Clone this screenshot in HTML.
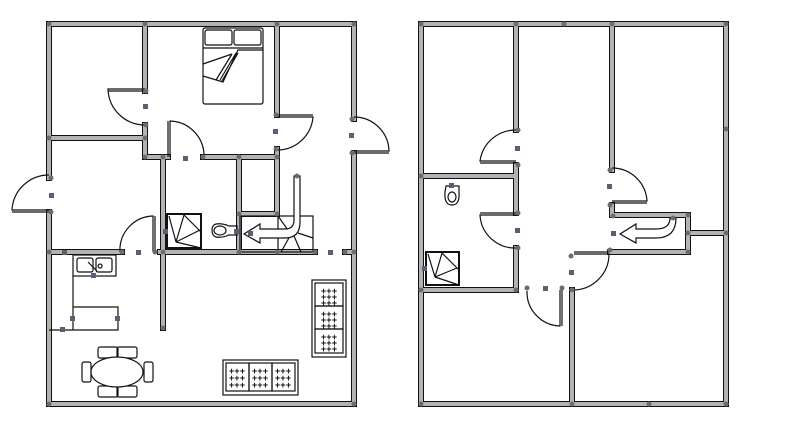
<!DOCTYPE html>
<html><head><meta charset="utf-8"><style>
html,body{margin:0;padding:0;background:#fff;}
svg{display:block;}
.wo{fill:none;stroke:#111;stroke-width:6;stroke-linecap:square;}
.wi{fill:none;stroke:#b3b3b3;stroke-width:4;stroke-linecap:square;}
.l{fill:none;stroke:#111;stroke-width:1.2;}
.lw{fill:#fff;stroke:#111;stroke-width:1.2;}
.d{fill:#6b6b78;}
.m{fill:#5e5e72;}
</style></head><body>
<svg width="785" height="434" viewBox="0 0 785 434" xmlns="http://www.w3.org/2000/svg">
<defs>
<path id="walls" d="
M49 24 H354 M49 24 V178 M49 212 V404 H354 M354 24 V119 M354 153 V404
M145 24 V91 M145 125 V157 M49 138 H145 M145 157 H168 M203 157 H277
M277 24 V115 M277 149 V214 M163 157 V328 M239 157 V252 M239 214 H277
M49 252 H122 M160 252 H315 M345 252 H354
M421 24 H726 M421 24 V404 H726 M726 24 V404
M516 24 V130 M516 165 V213 M516 248 V290 M421 176 H516 M421 290 H516
M612 24 V170 M612 205 V215 H688 V252 H610 M688 233 H726
M572 290 V404"/>
</defs>
<use href="#walls" class="wo"/>
<use href="#walls" class="wi"/>

<path class="l" d="M145 91 H108 M145 89 H108 A37 37 0 0 0 145 125"/>
<path class="l" d="M168 157 V121 M170 157 V121 A35 35 0 0 1 204 157"/>
<path class="l" d="M277 115 H313 M277 117 H313 A36 36 0 0 1 277 150"/>
<path class="l" d="M354 153 H389 M354 151 H389 A35 35 0 0 0 354 117"/>
<path class="l" d="M49 212 H12 M49 210 H12 A37 37 0 0 1 49 175"/>
<path class="l" d="M155 252 V216 M153 252 V216 A34 34 0 0 0 120 252"/>
<path class="l" d="M516 163 H480 M516 161 H480 A36 36 0 0 1 516 130"/>
<path class="l" d="M516 213 H480 M516 215 H480 A35 35 0 0 0 516 248"/>
<path class="l" d="M612 203 H647 M612 201 H647 A35 35 0 0 0 612 168"/>
<path class="l" d="M574 252 H609 M574 254 H609 A36 36 0 0 1 573 290"/>
<path class="l" d="M562 290 V326 M560 290 V326 A34 34 0 0 1 527 291"/>

<rect class="lw" x="203" y="28" width="60" height="76" rx="2"/>
<rect class="l" x="205" y="30" width="27" height="15" rx="2"/>
<rect class="l" x="234" y="30" width="27" height="15" rx="2"/>
<path class="l" d="M203 48 H263 M263 50 H238 L223 82 L203 76 M238 53 L222 81 M236 53 L220 80 M232 54 L216 80 M203 64 L232 54"/>

<rect x="167" y="214" width="34" height="34" fill="#fff" stroke="#111" stroke-width="2"/>
<path class="l" d="M167 214 H183 L201 232 M176 242 L169 216 M176 242 L184 215 M176 242 L200 230 M176 242 L201 248"/>
<path class="l" d="M237 226 H229 Q222 223 216 224 Q212 225 212 230 Q212 236 216 237 Q222 238 229 235 H237 Z"/>
<ellipse class="l" cx="220" cy="230.5" rx="6" ry="4.5"/>
<rect class="l" x="240" y="216" width="73" height="36"/>
<path class="l" d="M278 216 L290 233 M281 252 L290 236 M301 252 L294 236 M313 238 L298 233 M278 216 V252"/>
<path class="lw" d="M294 176 V220 Q294 229 285 229 H260 V224 L244 234 L260 243 V238 H285 Q300 238 300 222 V176 Z"/>

<rect class="l" x="73" y="255" width="43" height="21"/>
<rect class="l" x="77" y="258" width="16" height="14" rx="2"/>
<rect class="l" x="96" y="258" width="16" height="14" rx="2"/>
<path class="l" d="M88 262 L97 271 M100 264 a2 2 0 1 0 0.1 0"/>
<path class="l" d="M73 276 V330 M49 330 H118 V307 H73"/>

<rect class="l" x="98" y="347" width="20" height="11" rx="2"/>
<rect class="l" x="117" y="347" width="20" height="11" rx="2"/>
<rect class="l" x="98" y="386" width="20" height="11" rx="2"/>
<rect class="l" x="117" y="386" width="20" height="11" rx="2"/>
<rect class="l" x="82" y="362" width="9" height="20" rx="2"/>
<rect class="l" x="144" y="362" width="9" height="20" rx="2"/>
<ellipse class="lw" cx="117" cy="372" rx="26" ry="15"/>

<g class="l">
<rect x="312" y="280" width="34" height="77"/>
<rect x="315" y="283" width="28" height="23"/>
<rect x="315" y="306" width="28" height="23"/>
<rect x="315" y="329" width="28" height="24"/>
<rect x="223" y="360" width="75" height="35"/>
<rect x="226" y="363" width="23" height="28"/>
<rect x="249" y="363" width="23" height="28"/>
<rect x="272" y="363" width="23" height="28"/>
</g>
<g font-family="Liberation Mono, monospace" font-size="9" font-weight="bold" fill="#111" text-anchor="middle">
<text x="329" y="294">+++</text><text x="329" y="300">+++</text><text x="329" y="306">+++</text>
<text x="329" y="317">+++</text><text x="329" y="323">+++</text><text x="329" y="329">+++</text>
<text x="329" y="340">+++</text><text x="329" y="346">+++</text><text x="329" y="352">+++</text>
<text x="237" y="374">+++</text><text x="237" y="381">+++</text><text x="237" y="388">+++</text>
<text x="260" y="374">+++</text><text x="260" y="381">+++</text><text x="260" y="388">+++</text>
<text x="283" y="374">+++</text><text x="283" y="381">+++</text><text x="283" y="388">+++</text>
</g>

<rect x="426" y="252" width="33" height="33" fill="#fff" stroke="#111" stroke-width="2"/>
<path class="l" d="M426 252 H441 L459 270 M435 277 L428 254 M435 277 L442 253 M435 277 L457 268 M435 277 L459 285"/>
<path class="l" d="M446 186 H459 V192 Q460 205 452 205 Q444 205 445 192 Z"/>
<ellipse class="l" cx="452" cy="197" rx="4" ry="5"/>
<path class="lw" d="M670 218 Q670 229 656 229 H636 V224 L620 234 L636 243 V238 H656 Q676 238 676 218 Z"/>

<g class="d">
<circle cx="49" cy="24" r="2.5"/><circle cx="145" cy="24" r="2.5"/><circle cx="277" cy="24" r="2.5"/><circle cx="354" cy="24" r="2.5"/>
<circle cx="146" cy="91" r="2.5"/><circle cx="146" cy="125" r="2.5"/><circle cx="49" cy="138" r="2.5"/><circle cx="145" cy="138" r="2.5"/>
<circle cx="145" cy="157" r="2.5"/><circle cx="163" cy="157" r="2.5"/><circle cx="203" cy="157" r="2.5"/><circle cx="239" cy="157" r="2.5"/><circle cx="277" cy="157" r="2.5"/>
<circle cx="276" cy="115" r="2.5"/><circle cx="276" cy="149" r="2.5"/><circle cx="352" cy="119" r="2.5"/><circle cx="352" cy="153" r="2.5"/>
<circle cx="51" cy="178" r="2.5"/><circle cx="51" cy="212" r="2.5"/><circle cx="239" cy="214" r="2.5"/><circle cx="277" cy="214" r="2.5"/>
<circle cx="49" cy="252" r="2.5"/><circle cx="122" cy="252" r="2.5"/><circle cx="155" cy="252" r="2.5"/><circle cx="163" cy="252" r="2.5"/><circle cx="239" cy="252" r="2.5"/><circle cx="277" cy="252" r="2.5"/><circle cx="315" cy="252" r="2.5"/><circle cx="345" cy="252" r="2.5"/><circle cx="354" cy="252" r="2.5"/>
<circle cx="163" cy="328" r="2.5"/><circle cx="49" cy="404" r="2.5"/><circle cx="354" cy="404" r="2.5"/><circle cx="297" cy="176" r="2.5"/>
<circle cx="421" cy="24" r="2.5"/><circle cx="516" cy="24" r="2.5"/><circle cx="564" cy="24" r="2.5"/><circle cx="612" cy="24" r="2.5"/><circle cx="726" cy="24" r="2.5"/>
<circle cx="518" cy="130" r="2.5"/><circle cx="518" cy="165" r="2.5"/><circle cx="421" cy="176" r="2.5"/><circle cx="518" cy="213" r="2.5"/><circle cx="518" cy="248" r="2.5"/>
<circle cx="421" cy="290" r="2.5"/><circle cx="516" cy="290" r="2.5"/><circle cx="527" cy="288" r="2.5"/><circle cx="562" cy="288" r="2.5"/><circle cx="572" cy="290" r="2.5"/><circle cx="571" cy="256" r="2.5"/>
<circle cx="610" cy="170" r="2.5"/><circle cx="610" cy="205" r="2.5"/><circle cx="613" cy="216" r="2.5"/><circle cx="688" cy="215" r="2.5"/><circle cx="688" cy="233" r="2.5"/><circle cx="688" cy="252" r="2.5"/><circle cx="610" cy="250" r="2.5"/>
<circle cx="726" cy="129" r="2.5"/><circle cx="726" cy="233" r="2.5"/><circle cx="421" cy="404" r="2.5"/><circle cx="572" cy="404" r="2.5"/><circle cx="649" cy="404" r="2.5"/><circle cx="726" cy="404" r="2.5"/><circle cx="673" cy="218" r="2.5"/>
</g>
<g class="m">
<rect x="143" y="104" width="5" height="5"/><rect x="183" y="156" width="5" height="5"/><rect x="273" y="129" width="5" height="5"/><rect x="349" y="133" width="5" height="5"/>
<rect x="49" y="193" width="5" height="5"/><rect x="62" y="250" width="5" height="5"/><rect x="136" y="250" width="5" height="5"/><rect x="328" y="250" width="5" height="5"/>
<rect x="163" y="229" width="5" height="5"/><rect x="234" y="229" width="5" height="5"/><rect x="248" y="231" width="5" height="5"/><rect x="91" y="273" width="5" height="5"/>
<rect x="70" y="316" width="5" height="5"/><rect x="115" y="316" width="5" height="5"/><rect x="60" y="327" width="5" height="5"/>
<rect x="515" y="146" width="5" height="5"/><rect x="515" y="228" width="5" height="5"/><rect x="607" y="184" width="5" height="5"/><rect x="611" y="231" width="5" height="5"/>
<rect x="569" y="270" width="5" height="5"/><rect x="543" y="286" width="5" height="5"/><rect x="449" y="183" width="5" height="5"/><rect x="422" y="266" width="5" height="5"/>
</g>
</svg>
</body></html>
